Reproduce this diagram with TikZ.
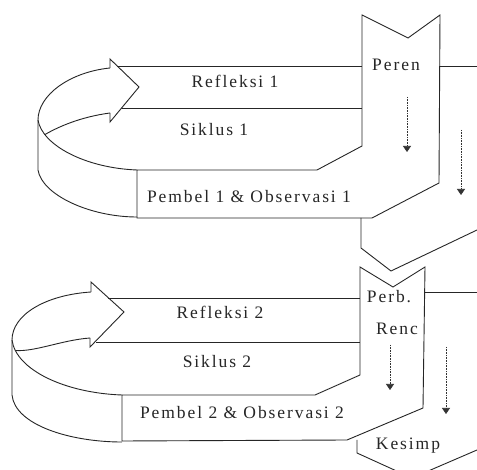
\documentclass[tikz,border=0pt]{standalone}
\usepackage{fontspec}
\setmainfont{Liberation Serif}[LetterSpace=11]
\usetikzlibrary{arrows.meta}
\tikzset{
  ln/.style={draw=black!85, line width=0.9pt, line join=miter},
  lbl/.style={font=\fontsize{17.5}{20}\selectfont, inner sep=0pt, text=black!85},
  darr/.style={draw=black!80, line width=0.6pt, densely dotted, -{Triangle[width=8pt,length=6pt]}},
}
\begin{document}
\begin{tikzpicture}[x=1pt,y=-1pt]
\useasboundingbox (0,0) rectangle (477,470);
\fill[white] (0,0) rectangle (477,470);
\clip (0,0) rectangle (477,470);

% ---------- Block 1 ----------
% column + Pembel box
\draw[ln] (362,15) -- (408,38) -- (440,15) -- (439,183) -- (372,218) -- (137,218)
          -- (137,170) -- (317,170) -- (362,146) -- cycle;
% curved arrow
\draw[ln] (110,68) -- (110,59) -- (139,87) -- (110,122) -- (110,113);
\draw[ln] (110,68) .. controls (70,72) and (38,95) .. (38,120) -- (38,170)
          .. controls (42,195) and (90,217) .. (137,217);
\draw[ln] (38,120) .. controls (42,145) and (85,168) .. coordinate[pos=0.2] (f1) (137,170);
\draw[ln] (110,113) .. controls (80,117) and (58,127) .. (f1);
% band lines
\draw[ln] (117,66) -- (362,66);
\draw[ln] (122,108) -- (362,108);
\draw[ln] (440,66) -- (477,66);
% chevron below
\draw[ln] (361,218) -- (361,248) -- (391,271) -- (477,230);
% dotted arrows
\draw[darr] (407,97) -- (407,152);
\draw[darr] (461,130) -- (461,195);
% texts
\node[lbl] (peren) at (396,65) {Peren};
\node[lbl] (ref1) at (235,81) {Refleksi 1};
\node[lbl] (sik1) at (214,130) {Siklus 1};
\node[lbl] (pem1) at (249,197) {Pembel 1 \& Observasi 1};

% ---------- Block 2 ----------
\draw[ln] (360,267) -- (393,287) -- (425,267) -- (423,408) -- (347,440) -- (122,441)
          -- (122,395) -- (315,395) -- (360,375) -- cycle;
\draw[ln] (91,292) -- (91,282) -- (124,312) -- (90,347) -- (90,338);
\draw[ln] (91,292) .. controls (45,295) and (12,315) .. (12,340) -- (12,395)
          .. controls (15,425) and (70,442) .. (122,442);
\draw[ln] (12,340) .. controls (16,370) and (65,393) .. coordinate[pos=0.12] (f2) (122,395);
\draw[ln] (90,338) .. controls (62,340) and (35,352) .. (f2);
\draw[ln] (108,298) -- (360,298);
\draw[ln] (96,342) -- (360,342);
\draw[ln] (424,292) -- (477,292);
% Kesimp chevron
\draw[ln] (357,440) -- (357,453) -- (412,478) -- (477,450);
% dotted arrows
\draw[darr] (390,345) -- (390,390);
\draw[darr] (446,347) -- (446,414);
% texts
\node[lbl] (perb) at (389,297) {Perb.};
\node[lbl] (renc) at (397,329) {Renc};
\node[lbl] (ref2) at (220,312) {Refleksi 2};
\node[lbl] (sik2) at (217,362) {Siklus 2};
\node[lbl] (pem2) at (242,413) {Pembel 2 \& Observasi 2};
\node[lbl] (kes) at (408,446) {Kesimp};
\end{tikzpicture}
\end{document}
